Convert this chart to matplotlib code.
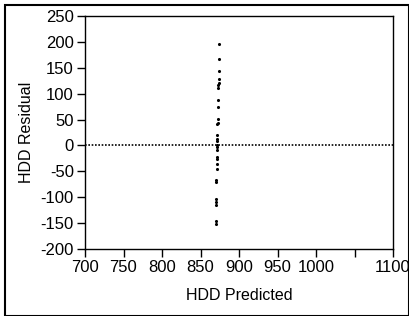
import matplotlib
matplotlib.use('Agg')
import matplotlib.pyplot as plt
from matplotlib.patches import Rectangle

# residuals vs predicted HDD
predicted = [874, 874, 873.5, 873.5, 873.5, 873, 873, 873, 872.5, 872.5, 872.5,
             872, 872, 872, 872, 871.5, 871.5, 871.5, 871.5, 871, 871, 871,
             870.5, 870.5, 870.5, 870.5, 870, 870, 870]
residual = [196, 167, 144, 128, 121, 117, 111, 88, 74, 52, 43, 41, 20, 13, 8,
            1, -3, -9, -22, -26, -35, -46, -67, -71, -103, -110, -115, -146, -152]

xticks = [700, 750, 800, 850, 900, 950, 1000, 1050, 1100]
xticklabels = ['700', '750', '800', '850', '900', '950', '1000', '', '1100']
yticks = [-200, -150, -100, -50, 0, 50, 100, 150, 200, 250]

plt.rcParams['font.family'] = ['Liberation Sans', 'DejaVu Sans']
plt.rcParams['axes.unicode_minus'] = False

fig = plt.figure(figsize=(4.1, 3.16), dpi=100)
ax = fig.add_axes([85 / 410, 1 - 249 / 316, 308 / 410, 233 / 316])

ax.scatter(predicted, residual, s=5, color='black', zorder=3, linewidths=0)
ax.axhline(0, color='black', linestyle=(0, (1, 1)), linewidth=1.2)

ax.set_xlim(700, 1100)
ax.set_ylim(-200, 250)
ax.set_xticks(xticks)
ax.set_xticklabels(xticklabels)
ax.set_yticks(yticks)
ax.tick_params(direction='out', length=6, width=1, labelsize=12, pad=2)
for s in ax.spines.values():
    s.set_linewidth(1)

ax.set_xlabel('HDD Predicted', fontsize=11.5, labelpad=9)
ax.set_ylabel('HDD Residual', fontsize=11.5, labelpad=5)

# outer frame
fig.patches.append(Rectangle((0.012, 0.0), 0.985, 0.985, transform=fig.transFigure,
                             fill=False, edgecolor='black', linewidth=1.5))

fig.savefig('out.png', dpi=100)
